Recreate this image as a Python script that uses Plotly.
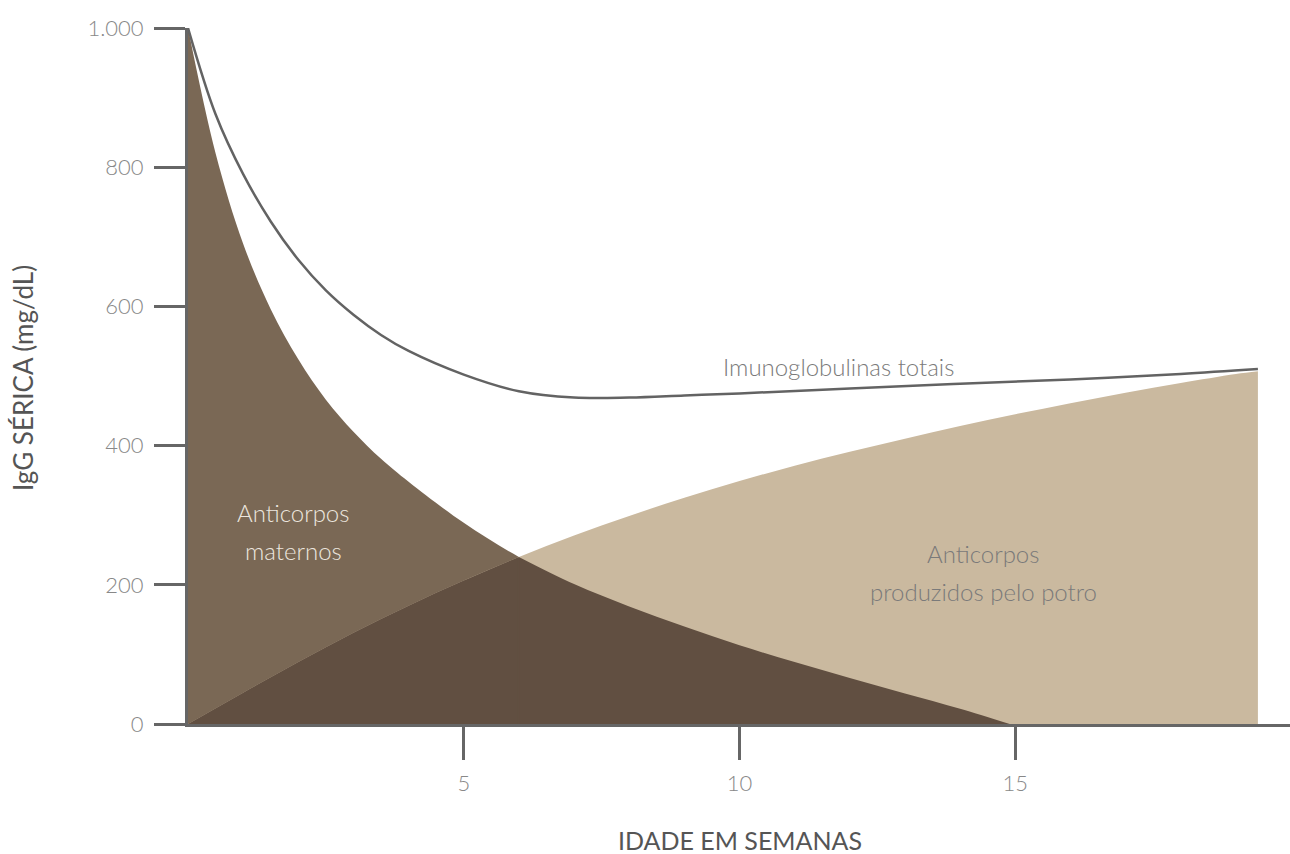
import plotly.graph_objects as go

# ---- data ----
maternal_weeks = [0, 0.5, 1, 1.5, 2, 2.5, 3, 3.5, 4, 5, 6, 7, 8, 9, 10, 11, 12, 13, 14, 14.9]
maternal_igg = [1000, 820, 690, 596, 524, 466, 420, 381, 348, 289, 240, 201, 169, 140, 113, 89, 66, 44, 22, 0]

foal_weeks = [0, 1, 2, 3, 4, 5, 6, 7, 8, 9, 10, 11, 12, 13, 14, 15, 16, 17, 18, 19, 19.4]
foal_igg = [0, 45, 89, 131, 170, 206, 240, 271, 299, 325, 349, 371, 391, 410, 428, 445, 461, 476, 490, 503, 507]

total_weeks = [0, 0.5, 1, 1.5, 2, 2.5, 3, 3.5, 4, 5, 6, 7, 8, 9, 10, 12, 14, 16, 18, 19.4]
total_igg = [1000, 876, 790, 722, 667, 623, 588, 559, 536, 502, 478, 469, 469, 472, 475, 482, 489, 495, 503, 510]

y_tickvals = [0, 200, 400, 600, 800, 1000]
y_ticktext = ["0", "200", "400", "600", "800", "1.000"]
x_tickvals = [5, 10, 15]
x_ticktext = ["5", "10", "15"]
crossing_week = 6.0

C_MAT = "#7a6855"
C_FOAL = "#cab99f"
C_OVER = "#614f41"
C_LINE = "#636363"
C_AXIS = "#666666"
FONT = "Lato"

fig = go.Figure()

fig.add_trace(go.Scatter(x=maternal_weeks, y=maternal_igg, mode="lines", line=dict(width=0, shape="spline", color=C_MAT),
                         fill="tozeroy", fillcolor=C_MAT, hoverinfo="skip"))
fig.add_trace(go.Scatter(x=foal_weeks, y=foal_igg, mode="lines", line=dict(width=0, shape="spline", color=C_FOAL),
                         fill="tozeroy", fillcolor=C_FOAL, hoverinfo="skip"))

# overlap region: foal part before the crossing, maternal part after
ox1 = [w for w in foal_weeks if w <= crossing_week]
oy1 = [v for w, v in zip(foal_weeks, foal_igg) if w <= crossing_week]
ox2 = [w for w in maternal_weeks if w >= crossing_week]
oy2 = [v for w, v in zip(maternal_weeks, maternal_igg) if w >= crossing_week]
for ox, oy in ((ox1, oy1), (ox2, oy2)):
    fig.add_trace(go.Scatter(x=ox, y=oy, mode="lines", line=dict(width=0, shape="spline", color=C_OVER),
                             fill="tozeroy", fillcolor=C_OVER, hoverinfo="skip"))
# hide the seam between the two overlap pieces
fig.add_trace(go.Scatter(x=[crossing_week, crossing_week], y=[0, oy2[0] - 2], mode="lines",
                         line=dict(width=2, color=C_OVER), hoverinfo="skip"))

fig.add_trace(go.Scatter(x=total_weeks, y=total_igg, mode="lines",
                         line=dict(width=2.5, shape="spline", color=C_LINE), hoverinfo="skip"))

W, H = 1290, 854
L, T = 188, 28
B = H - 724
plot_w = W - L
plot_h = H - T - B
px_per_week = 55.15
fig.update_layout(
    width=W, height=H,
    margin=dict(l=L, r=0, t=T, b=B, pad=0),
    plot_bgcolor="white", paper_bgcolor="white",
    showlegend=False,
    font=dict(family=FONT, color="#888888"),
)
fig.update_xaxes(range=[0, plot_w / px_per_week], showgrid=False, zeroline=False,
                 showline=True, linecolor=C_AXIS, linewidth=3,
                 tickmode="array", tickvals=x_tickvals, ticktext=x_ticktext,
                 ticks="outside", ticklen=33, tickwidth=3, tickcolor=C_AXIS,
                 tickfont=dict(family=FONT, size=22, color="#888888", weight=300),
                 ticklabelstandoff=5)
fig.update_yaxes(range=[0, 1000], showgrid=False, zeroline=False,
                 showline=True, linecolor=C_AXIS, linewidth=3,
                 tickmode="array", tickvals=y_tickvals, ticktext=y_ticktext,
                 ticks="outside", ticklen=31, tickwidth=3, tickcolor=C_AXIS,
                 tickfont=dict(family=FONT, size=22, color="#888888", weight=300),
                 ticklabelstandoff=6)

def px_x(px):
    return (px - L) / plot_w

def px_y(py):
    return (H - B - py) / plot_h

anns = [
    dict(text="IDADE EM SEMANAS", x=px_x(740), y=px_y(840), size=25, color="#555555", weight=400, angle=0),
    dict(text="IgG SÉRICA (mg/dL)", x=px_x(23), y=px_y(378), size=26, color="#555555", weight=400, angle=-90),
    dict(text="Anticorpos", x=px_x(293), y=px_y(512), size=24, color="#ece6df", weight=300, angle=0),
    dict(text="maternos", x=px_x(293), y=px_y(550), size=24, color="#ece6df", weight=300, angle=0),
    dict(text="Imunoglobulinas totais", x=px_x(838), y=px_y(367), size=24, color="#7a7a7a", weight=300, angle=0),
    dict(text="Anticorpos", x=px_x(983), y=px_y(553), size=24, color="#7a7a7a", weight=300, angle=0),
    dict(text="produzidos pelo potro", x=px_x(983), y=px_y(591), size=24, color="#7a7a7a", weight=300, angle=0),
]
for a in anns:
    fig.add_annotation(text=a["text"], xref="paper", yref="paper", x=a["x"], y=a["y"],
                       xanchor="center", yanchor="middle", showarrow=False, textangle=a["angle"],
                       font=dict(family=FONT, size=a["size"], color=a["color"], weight=a["weight"]))

# remove the default 8px page margin so the figure fills the window exactly
fig.write_html("out.html", config={"displayModeBar": False},
               post_script="document.body.style.margin='0';document.body.style.overflow='hidden';")
